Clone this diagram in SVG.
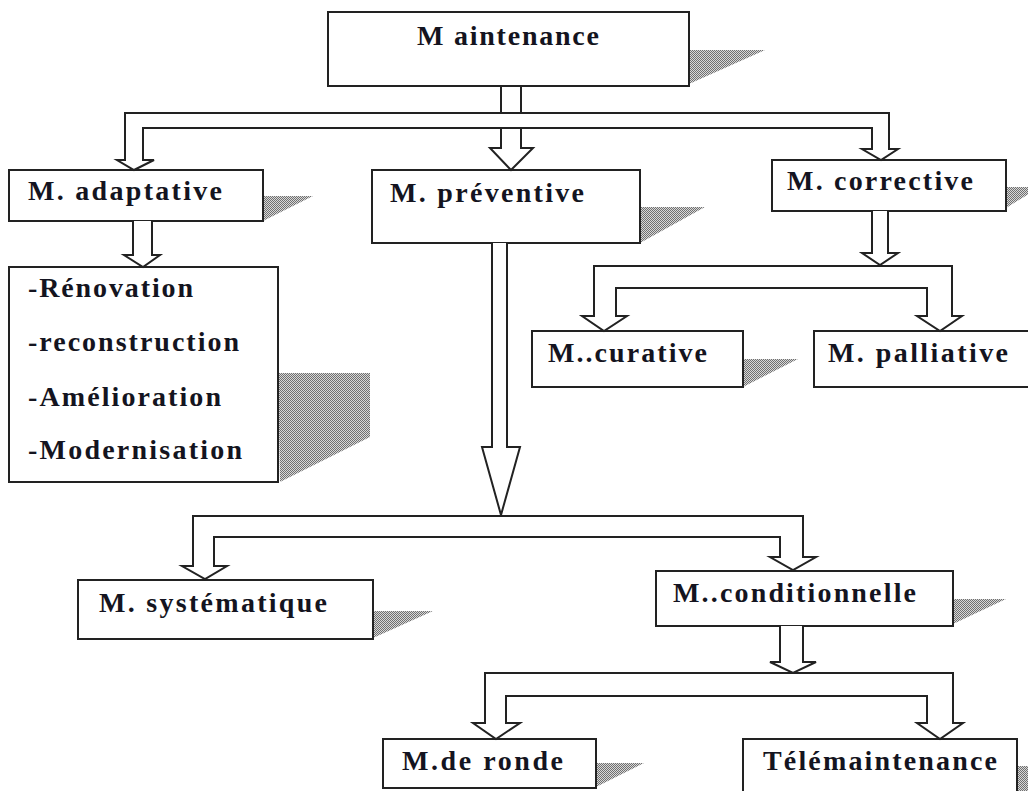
<svg xmlns="http://www.w3.org/2000/svg" width="1028" height="791" viewBox="0 0 1028 791">
<defs>
<pattern id="dots" width="2" height="2" patternUnits="userSpaceOnUse">
<rect width="2" height="2" fill="#d8d8d8"/>
<rect width="1" height="1" fill="#707070"/>
<rect x="1" y="1" width="1" height="1" fill="#707070"/>
</pattern>
</defs>
<style>
.box{fill:#fff;stroke:#222;stroke-width:2}
.sh{fill:url(#dots);stroke:none}
text{font-family:'Liberation Serif','Times New Roman',serif;font-weight:700;font-size:28px;fill:#141420}
.con{fill:#fff;stroke:#222;stroke-width:2;stroke-linejoin:miter}
</style>
<rect width="1028" height="791" fill="#fff"/>

<g id="node-maintenance">
<polygon class="sh" points="689,50 765,50 689,84"/>
<rect class="box" x="328" y="12" width="361" height="74"/>
<text x="417" y="45" textLength="182" lengthAdjust="spacing">M aintenance</text>
</g>

<g id="node-adaptative">
<polygon class="sh" points="263,196 313,196 263,221"/>
<rect class="box" x="9" y="170" width="254" height="51"/>
<text x="28" y="200" textLength="194" lengthAdjust="spacing">M. adaptative</text>
</g>

<g id="node-preventive">
<polygon class="sh" points="640,207 705,207 640,243"/>
<rect class="box" x="372" y="170" width="268" height="73"/>
<text x="390" y="202" textLength="194" lengthAdjust="spacing">M. préventive</text>
</g>

<g id="node-corrective">
<polygon class="sh" points="1006,187 1040,187 1006,208"/>
<rect class="box" x="772" y="160" width="234" height="51"/>
<text x="787" y="190" textLength="186" lengthAdjust="spacing">M. corrective</text>
</g>

<g id="node-liste">
<polygon class="sh" points="278,373 370,373 370,437 280,482"/>
<rect class="box" x="9" y="267" width="269" height="215"/>
<text x="28" y="297" textLength="165" lengthAdjust="spacing">-Rénovation</text>
<text x="28" y="351" textLength="211" lengthAdjust="spacing">-reconstruction</text>
<text x="28" y="406" textLength="193" lengthAdjust="spacing">-Amélioration</text>
<text x="28" y="459" textLength="214" lengthAdjust="spacing">-Modernisation</text>
</g>

<g id="node-curative">
<polygon class="sh" points="743,359 798,359 743,387"/>
<rect class="box" x="532" y="331" width="211" height="56"/>
<text x="548" y="362" textLength="159" lengthAdjust="spacing">M..curative</text>
</g>

<g id="node-palliative">
<rect class="box" x="814" y="331" width="220" height="56"/>
<text x="828" y="362" textLength="180" lengthAdjust="spacing">M. palliative</text>
</g>

<g id="node-systematique">
<polygon class="sh" points="373,611 433,611 373,638"/>
<rect class="box" x="78" y="580" width="295" height="59"/>
<text x="99" y="612" textLength="228" lengthAdjust="spacing">M. systématique</text>
</g>

<g id="node-conditionnelle">
<polygon class="sh" points="953,599 1006,599 953,624"/>
<rect class="box" x="656" y="571" width="297" height="55"/>
<text x="673" y="602" textLength="243" lengthAdjust="spacing">M..conditionnelle</text>
</g>

<g id="node-ronde">
<polygon class="sh" points="596,763 644,763 596,787"/>
<rect class="box" x="383" y="739" width="213" height="49"/>
<text x="402" y="770" textLength="161" lengthAdjust="spacing">M.de ronde</text>
</g>

<g id="node-telemaintenance">
<polygon class="sh" points="1017,766 1040,766 1040,800 1017,800"/>
<rect class="box" x="743" y="739" width="274" height="70"/>
<text x="763" y="770" textLength="234" lengthAdjust="spacing">Télémaintenance</text>
</g>

<g id="connectors">
<rect class="con" x="501" y="86" width="20" height="27"/>
<path class="con" d="M125,113 L125,160 L117,160 L134,170 L154,160 L143,160 L143,128 L872,128 L872,149 L862,149 L881,160 L898,149 L889,149 L889,113 Z"/>
<path class="con" d="M501,128 L501,148 L490,148 L511,170 L533,148 L521,148 L521,128"/>
<line x1="501" y1="128" x2="521" y2="128" stroke="#222" stroke-width="2"/>
<path class="con" d="M133,221 L133,255 L124,255 L143,267 L160,255 L152,255 L152,221"/>
<path class="con" d="M872,211 L872,253 L862,253 L880,265 L898,253 L888,253 L888,211"/>
<path class="con" d="M594,266 L594,316 L582,316 L604,331 L627,316 L616,316 L616,288 L927,288 L927,316 L917,316 L940,331 L962,316 L952,316 L952,266 Z"/>
<path class="con" d="M492,243 L492,447 L482,447 L501,515 L520,447 L507,447 L507,243"/>
<path class="con" d="M193,516 L193,566 L182,566 L205,579 L227,566 L214,566 L214,537 L780,537 L780,557 L770,557 L793,570 L816,557 L803,557 L803,516 Z"/>
<path class="con" d="M780,626 L780,662 L770,662 L793,673 L816,662 L803,662 L803,626"/>
<path class="con" d="M485,673 L485,723 L473,723 L496,739 L520,723 L506,723 L506,696 L927,696 L927,723 L917,723 L940,739 L963,723 L953,723 L953,673 Z"/>
</g>
</svg>
